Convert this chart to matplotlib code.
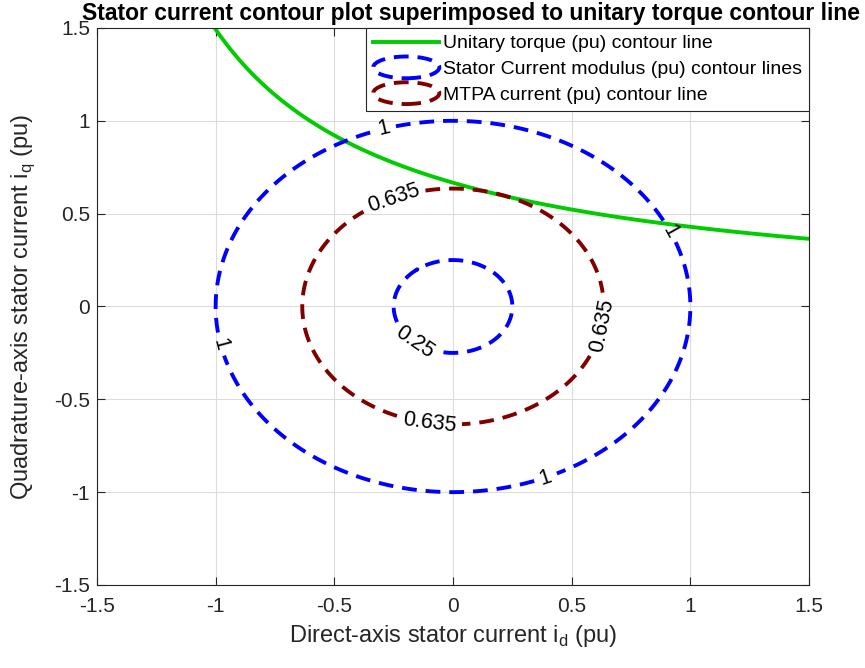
import numpy as np
import matplotlib
matplotlib.use("Agg")
import matplotlib.pyplot as plt
from matplotlib.lines import Line2D
from matplotlib.patches import Ellipse
from matplotlib.legend_handler import HandlerBase

plt.rcParams['font.family'] = ['Liberation Sans', 'DejaVu Sans']

# Motor model (per unit): torque = iq * (psi_pm + delta_L * id)
psi_pm = 1.5
delta_L = 0.83

# Contour levels
current_levels = [0.25, 1.0]
mtpa_level = [0.635]
torque_level = [1.0]

# Inline label positions (id, iq)
current_label_pos = [(-0.29, 0.96), (0.91, 0.40), (-0.97, -0.20), (0.39, -0.92), (-0.15, -0.17)]
mtpa_label_pos = [(-0.25, 0.58), (0.62, -0.10), (-0.10, -0.62)]

axis_range = (-1.5, 1.5)
ticks = [-1.5, -1, -0.5, 0, 0.5, 1, 1.5]
tick_labels = ['-1.5', '-1', '-0.5', '0', '0.5', '1', '1.5']

GREEN = (0.0, 0.8, 0.0)
BLUE = (0.0, 0.0, 1.0)
MAROON = (0.5, 0.0, 0.0)
DASH = (0, (3.8, 2.3))
LW = 2.8

g = np.linspace(axis_range[0], axis_range[1], 601)
ID, IQ = np.meshgrid(g, g)
I_mod = np.hypot(ID, IQ)
TORQUE = IQ * (psi_pm + delta_L * ID)

fig = plt.figure(figsize=(8.65, 6.68), dpi=100)
ax = fig.add_axes([0.1121, 0.1243, 0.8232, 0.8338])

ax.contour(ID, IQ, TORQUE, levels=torque_level, colors=[GREEN], linewidths=LW)
cs_cur = ax.contour(ID, IQ, I_mod, levels=current_levels, colors=[BLUE],
                    linewidths=LW, linestyles=[DASH])
cs_mtpa = ax.contour(ID, IQ, I_mod, levels=mtpa_level, colors=[MAROON],
                     linewidths=LW, linestyles=[DASH])

ax.clabel(cs_cur, fmt=lambda v: f"{v:g}", fontsize=15.5, colors='black',
          manual=current_label_pos, inline=True, inline_spacing=6)
ax.clabel(cs_mtpa, fmt=lambda v: f"{v:g}", fontsize=15.5, colors='black',
          manual=mtpa_label_pos, inline=True, inline_spacing=6)

ax.set_xlim(*axis_range)
ax.set_ylim(*axis_range)
ax.set_xticks(ticks)
ax.set_xticklabels(tick_labels)
ax.set_yticks(ticks)
ax.set_yticklabels(tick_labels)
ax.tick_params(direction='in', top=True, right=True, labelsize=15,
               colors='#262626', length=6, width=0.8)
ax.tick_params(axis='x', pad=9)
ax.tick_params(axis='y', pad=5)
for sp in ax.spines.values():
    sp.set_color('#262626')
    sp.set_linewidth(0.8)
ax.grid(True, color='#dcdcdc', linewidth=0.8)
ax.set_axisbelow(True)

ax.set_xlabel(r'Direct-axis stator current i$_{\mathregular{d}}$ (pu)', fontsize=17,
              color='#262626', labelpad=5)
ax.set_ylabel(r'Quadrature-axis stator current i$_{\mathregular{q}}$ (pu)', fontsize=17,
              color='#262626', labelpad=12)
fig.text(0.545, 0.997, 'Stator current contour plot superimposed to unitary torque contour line',
         ha='center', va='top', fontsize=16.5, fontweight='bold')


class EllipseHandler(HandlerBase):
    def __init__(self, color):
        super().__init__()
        self.color = color

    def create_artists(self, legend, orig_handle, xdescent, ydescent, width,
                       height, fontsize, trans):
        e = Ellipse((width / 2 - xdescent, height / 2 - ydescent), width, height * 1.6,
                    fill=False, edgecolor=self.color, linewidth=LW, linestyle=DASH,
                    transform=trans)
        return [e]


h_torque = Line2D([], [], color=GREEN, linewidth=LW)
h_cur = Line2D([], [], color=BLUE)
h_mtpa = Line2D([], [], color=MAROON)
leg = ax.legend([h_torque, h_cur, h_mtpa],
                ['Unitary torque (pu) contour line',
                 'Stator Current modulus (pu) contour lines',
                 'MTPA current (pu) contour line'],
                handler_map={h_cur: EllipseHandler(BLUE), h_mtpa: EllipseHandler(MAROON)},
                loc='upper right', bbox_to_anchor=(1.0, 1.0), fontsize=14,
                handlelength=3.4, handletextpad=0.2, borderpad=0.35, labelspacing=0.42,
                borderaxespad=0.0, fancybox=False, framealpha=1, edgecolor='#262626')
leg.get_frame().set_linewidth(0.8)

fig.savefig('out.png', dpi=100)
